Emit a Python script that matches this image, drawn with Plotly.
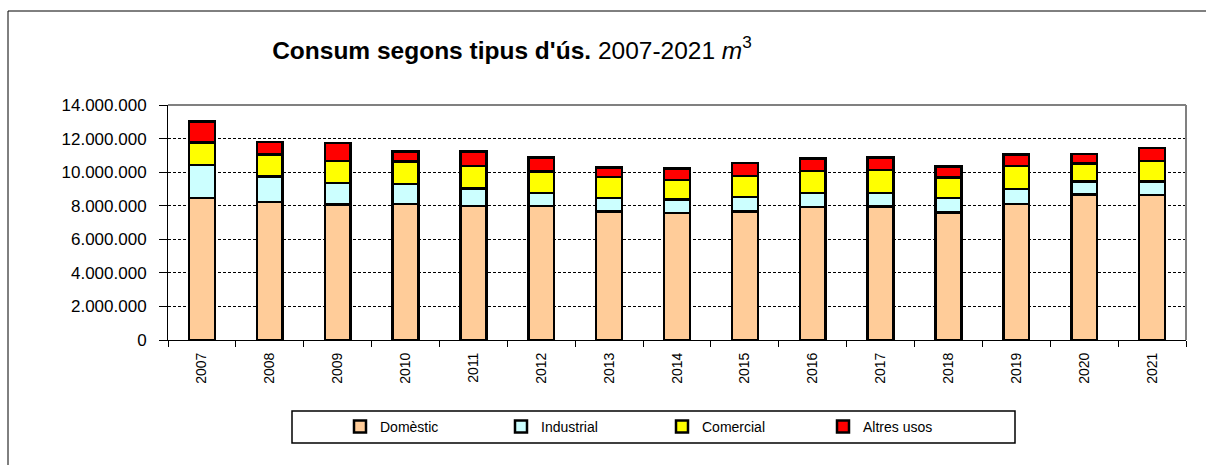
import plotly.graph_objects as go

years = ["2007", "2008", "2009", "2010", "2011", "2012", "2013", "2014",
         "2015", "2016", "2017", "2018", "2019", "2020", "2021"]
domestic = [8450000, 8210000, 8070000, 8110000, 7990000, 7970000, 7650000, 7570000,
            7670000, 7930000, 7950000, 7590000, 8110000, 8660000, 8640000]
industrial = [1990000, 1530000, 1290000, 1190000, 1040000, 780000, 800000, 800000,
              840000, 840000, 820000, 860000, 880000, 790000, 810000]
comercial = [1330000, 1310000, 1300000, 1320000, 1350000, 1290000, 1250000, 1150000,
             1250000, 1290000, 1370000, 1230000, 1390000, 1070000, 1210000]
altres = [1250000, 740000, 1070000, 610000, 850000, 830000, 580000, 700000,
          780000, 760000, 730000, 660000, 670000, 560000, 790000]

series = [
    ("Domèstic", domestic, "#FFCC99"),
    ("Industrial", industrial, "#CCFFFF"),
    ("Comercial", comercial, "#FFFF00"),
    ("Altres usos", altres, "#FF0000"),
]

FONT = "Liberation Sans, Arial, sans-serif"

fig = go.Figure()
for name, vals, col in series:
    fig.add_trace(go.Bar(
        x=years, y=vals, name=name,
        marker=dict(color=col, line=dict(color="black", width=2.5)),
    ))

W, H = 1206, 465
L, R, T, B = 168, 20, 105, 125
pw = W - L - R
ph = H - T - B

def px_x(x):
    return (x - L) / pw

def px_y(y):
    return (H - B - y) / ph

fig.update_layout(
    width=W, height=H,
    margin=dict(l=L, r=R, t=T, b=B),
    barmode="stack",
    bargap=0.62,
    separators=",.",
    paper_bgcolor="white",
    plot_bgcolor="white",
    font=dict(family=FONT, color="black"),
    title=dict(
        text="<b>Consum segons tipus d'ús.</b> 2007-2021 <i>m</i><sup>3</sup>",
        x=512 / W, xanchor="center",
        y=1 - 50 / H, yanchor="middle",
        font=dict(family=FONT, size=24.5, color="black"),
    ),
    xaxis=dict(
        type="category",
        tickangle=-90,
        ticks="outside", tickson="boundaries", ticklen=6, tickcolor="black",
        ticklabelstandoff=6,
        showline=True, linecolor="black", linewidth=1,
        showgrid=False,
        tickfont=dict(family=FONT, size=14, color="black"),
    ),
    yaxis=dict(
        range=[0, 14000000], dtick=2000000, tickformat=",.0f",
        ticks="outside", ticklen=8, tickcolor="black",
        ticklabelstandoff=9,
        showline=True, linecolor="black", linewidth=1,
        showgrid=True, gridcolor="black", gridwidth=1, griddash="3px,2px",
        zeroline=False,
        tickfont=dict(family=FONT, size=17, color="black"),
    ),
    showlegend=True,
    legend=dict(
        orientation="h",
        x=px_x(340), xanchor="left",
        y=px_y(427), yanchor="middle",
        entrywidth=116, entrywidthmode="pixels",
        traceorder="normal",
        bgcolor="rgba(0,0,0,0)",
        borderwidth=0,
        font=dict(family=FONT, size=14, color="black"),
    ),
    shapes=[
        # outer frame
        dict(type="rect", xref="paper", yref="paper",
             x0=px_x(8), x1=px_x(1215), y0=px_y(475), y1=px_y(11),
             line=dict(color="black", width=1), layer="below"),
        # plot area top / right border
        dict(type="line", xref="paper", yref="paper", x0=0, x1=1, y0=1, y1=1,
             line=dict(color="#808080", width=2)),
        dict(type="line", xref="paper", yref="paper", x0=1, x1=1, y0=0, y1=1,
             line=dict(color="#808080", width=2)),
        # legend box
        dict(type="rect", xref="paper", yref="paper",
             x0=px_x(292), x1=px_x(1015), y0=px_y(443), y1=px_y(411),
             line=dict(color="black", width=1.5), fillcolor="rgba(0,0,0,0)"),
    ],
)

fig.write_html("out.html", config={"displayModeBar": False},
               post_script="document.body.style.margin='0';")
